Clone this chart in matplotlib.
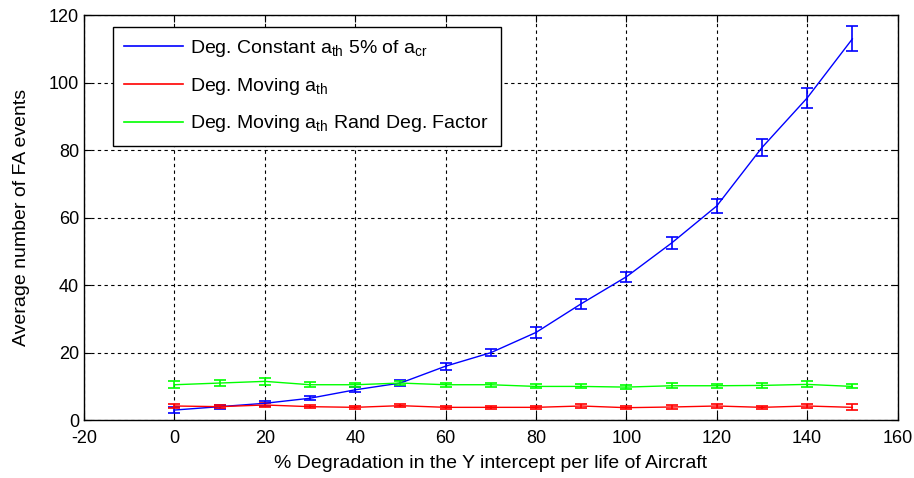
import numpy as np
import matplotlib
matplotlib.use('Agg')
import matplotlib.pyplot as plt
from matplotlib.lines import Line2D

plt.rcParams['font.family'] = ['Liberation Sans', 'DejaVu Sans']
plt.rcParams['mathtext.default'] = 'regular'
plt.rcParams['axes.unicode_minus'] = False

# degradation levels (% of Y intercept per aircraft life)
degradation = [0, 10, 20, 30, 40, 50, 60, 70, 80, 90, 100, 110, 120, 130, 140, 150]

# constant threshold, 5% of critical crack length
const_mean = [3.0, 4.0, 5.0, 6.5, 9.0, 11.0, 16.0, 20.0, 26.0, 34.5, 42.5, 52.5, 63.5, 80.8, 95.5, 113.0]
const_err = [0.8, 0.6, 0.7, 0.6, 0.7, 0.8, 1.0, 1.1, 1.5, 1.5, 1.5, 1.8, 2.0, 2.5, 3.0, 3.7]

# moving threshold
moving_mean = [4.2, 4.0, 4.5, 4.0, 3.8, 4.3, 3.8, 3.8, 3.8, 4.2, 3.7, 3.9, 4.2, 3.8, 4.2, 3.8]
moving_err = [0.6, 0.5, 0.7, 0.4, 0.5, 0.5, 0.5, 0.5, 0.5, 0.5, 0.5, 0.5, 0.6, 0.5, 0.5, 0.9]

# moving threshold with random degradation factor
rand_mean = [10.5, 11.0, 11.5, 10.5, 10.5, 11.0, 10.5, 10.5, 10.0, 10.0, 9.8, 10.2, 10.2, 10.3, 10.6, 10.0]
rand_err = [1.0, 0.8, 1.0, 0.7, 0.6, 0.6, 0.6, 0.6, 0.6, 0.6, 0.7, 0.8, 0.6, 0.7, 0.9, 0.6]

labels = [r'Deg. Constant a$_{th}$ 5% of a$_{cr}$',
          r'Deg. Moving a$_{th}$',
          r'Deg. Moving a$_{th}$ Rand Deg. Factor']
colors = ['#0000ff', '#ff0000', '#00ff00']

fig, ax = plt.subplots(figsize=(9.14, 4.78), dpi=100)
fig.subplots_adjust(left=0.092, right=0.982, top=0.968, bottom=0.121)

for mean, err, c in zip([const_mean, moving_mean, rand_mean],
                        [const_err, moving_err, rand_err], colors):
    ax.errorbar(degradation, mean, yerr=err, color=c, lw=1,
                capsize=4.3, capthick=1.2, elinewidth=1.2)

ax.set_xlim(-20, 160)
ax.set_ylim(0, 120)
ax.set_xticks(np.arange(-20, 161, 20))
ax.set_yticks(np.arange(0, 121, 20))
ax.grid(True, color='black', linestyle=(0, (3, 3)), linewidth=0.8)
ax.tick_params(direction='in', top=True, right=True, labelsize=13, length=5)
ax.tick_params(axis='x', pad=7)
for s in ax.spines.values():
    s.set_linewidth(1)

ax.set_xlabel('% Degradation in the Y intercept per life of Aircraft', fontsize=14, labelpad=6)
ax.set_ylabel('Average number of FA events', fontsize=14, labelpad=14)

# legend shows plain lines only
handles = [Line2D([], [], color=c, lw=1.2) for c in colors]
leg = ax.legend(handles, labels, loc='upper left', bbox_to_anchor=(0.035, 0.972),
                fontsize=14, handlelength=3.0, handletextpad=0.4, fancybox=False,
                framealpha=1, edgecolor='black', borderpad=0.6, labelspacing=0.85,
                borderaxespad=0)
leg.get_frame().set_linewidth(1)

fig.savefig('out.png', dpi=100)
